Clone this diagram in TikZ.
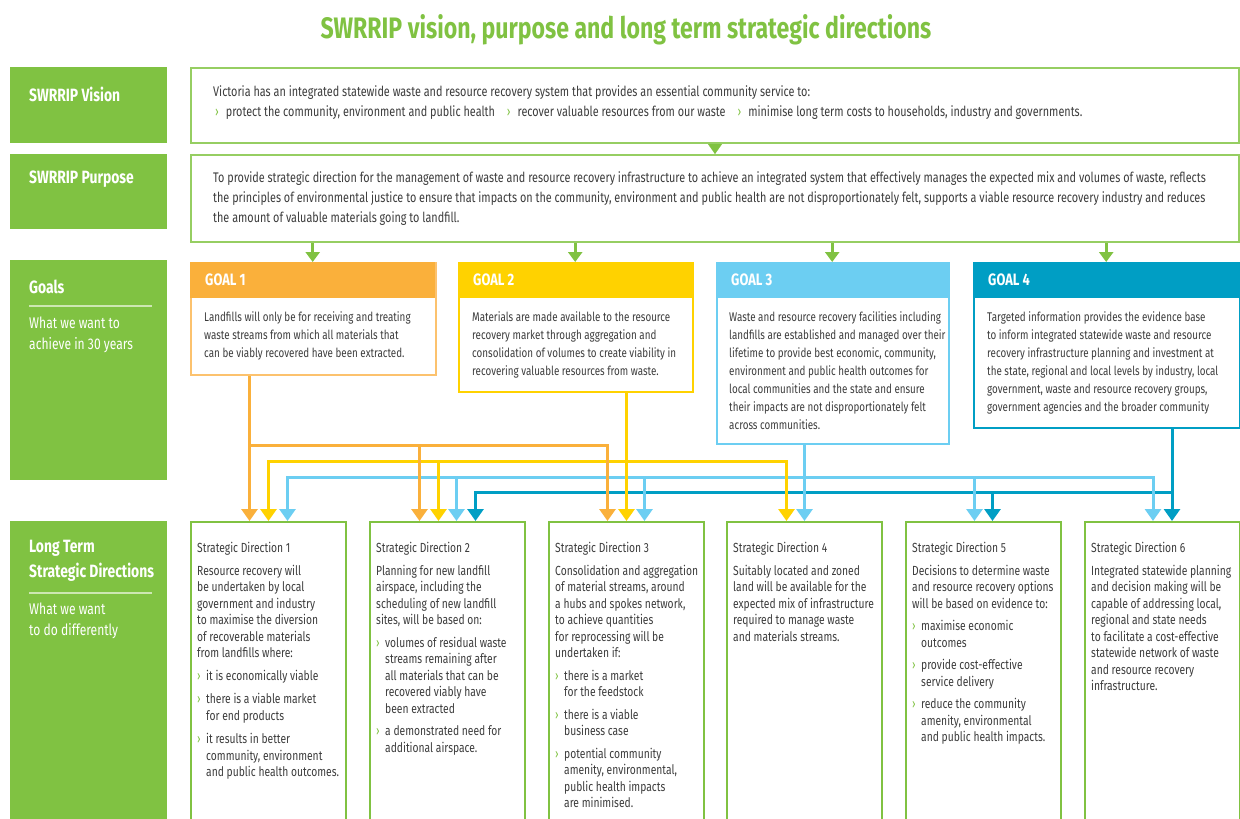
\documentclass[tikz,border=0pt]{standalone}
\usepackage{fontspec}
\setmainfont[FakeStretch=0.78]{Fira Sans}
\usetikzlibrary{calc}
\usetikzlibrary{arrows.meta}

\definecolor{swgreen}{RGB}{128,194,66}
\definecolor{swframe}{RGB}{150,206,98}
\definecolor{swrule}{RGB}{205,231,178}
\definecolor{gorange}{RGB}{250,176,59}
\definecolor{gorangel}{RGB}{252,194,110}
\definecolor{gyellow}{RGB}{255,210,0}
\definecolor{gblue}{RGB}{108,206,242}
\definecolor{gteal}{RGB}{0,158,196}
\definecolor{txtgrey}{RGB}{60,60,60}

\newcommand{\chev}{{\color{swgreen}›}}
\newcommand{\bul}{\makebox[9pt][l]{\chev}}
\newcommand{\ind}{\hspace*{9pt}}

\tikzset{
  greenlab/.style={fill=swgreen, anchor=north west, minimum width=157pt, minimum height=#1, inner sep=0pt},
  labhead/.style={anchor=west, text=white, align=left, inner sep=0pt, font=\fontsize{17.8}{25}\selectfont\bfseries},
  labsub/.style={anchor=west, text=white, align=left, inner sep=0pt, font=\fontsize{15.5}{21}\selectfont},
  topbox/.style={draw=swframe, line width=2pt, anchor=north west, minimum width=1048pt, inner sep=0pt},
  toptext/.style={anchor=west, text=txtgrey, align=left, inner sep=0pt, font=\fontsize{13.9}{20}\selectfont},
  goalbody/.style={draw=#1, line width=2pt, anchor=north west, inner sep=0pt},
  goalhead/.style={fill=#1, anchor=north west, minimum height=36pt, inner sep=0pt},
  goaltitle/.style={anchor=west, text=white, inner sep=0pt, font=\fontsize{16.5}{18}\selectfont\bfseries},
  goaltext/.style={anchor=west, text=txtgrey, align=left, inner sep=0pt, font=\fontsize{12.6}{18}\selectfont},
  sdbox/.style={draw=swgreen, line width=2pt, anchor=north west, minimum width=155pt, minimum height=320pt, inner sep=0pt},
  sdtext/.style={anchor=north west, text=txtgrey, align=left, inner sep=0pt, font=\fontsize{13.2}{16.5}\selectfont},
  feed/.style={line width=3pt, draw=swgreen, arrows={-Triangle[width=14pt,length=10pt]}},
  link/.style={line width=3pt, draw=#1, arrows={-Triangle[width=16pt,length=12pt]}},
  linkboth/.style={line width=3pt, draw=#1, arrows={Triangle[width=16pt,length=12pt]-Triangle[width=16pt,length=12pt]}}
}

\begin{document}
\begin{tikzpicture}[x=1pt, y=-1pt]
\useasboundingbox (0,0) rectangle (1240,819);

\node[font=\fontsize{29.6}{32}\selectfont\bfseries, text=swgreen] (title) at (626,30) {SWRRIP vision, purpose and long term strategic directions};

\node[greenlab=76pt] (vislab) at (10,67) {};
\node[labhead] (vislabt) at (29,94) {SWRRIP Vision};
\node[greenlab=75pt] (purlab) at (10,154) {};
\node[labhead] (purlabt) at (29,179) {SWRRIP Purpose};
\node[greenlab=220pt] (goallab) at (10,260) {};
\node[labhead] (goallabt) at (29,287) {Goals};
\draw[swrule, line width=1.5pt] (29,306) -- (152,306);
\node[labsub] (goallabs) at (29,334.5) {What we want to\\achieve in 30 years};
\node[greenlab=320pt] (sdlab) at (10,521) {};
\node[labhead] (sdlabt) at (29,560.5) {Long Term\\Strategic Directions};
\draw[swrule, line width=1.5pt] (29,593) -- (152,593);
\node[labsub] (sdlabs) at (29,620.5) {What we want\\to do differently};

\node[topbox, minimum height=75pt] (vis) at (190,67) {};
\node[toptext] (vist) at (213,103) {Victoria has an integrated statewide waste and resource recovery system that provides an essential community service to:\\
\hspace*{2pt}\chev\hspace{7pt}protect the community, environment and public health\hspace{12pt}\chev\hspace{7pt}recover valuable resources from our waste\hspace{12pt}\chev\hspace{7pt}minimise long term costs to households, industry and governments.};
\node[topbox, minimum height=87pt] (pur) at (190,154) {};
\node[toptext] (purt) at (213,199) {To provide strategic direction for the management of waste and resource recovery infrastructure to achieve an integrated system that effectively manages the expected mix and volumes of waste, reflects\\
the principles of environmental justice to ensure that impacts on the community, environment and public health are not disproportionately felt, supports a viable resource recovery industry and reduces\\
the amount of valuable materials going to landfill.};
\draw[feed, line width=.1pt] (vis.south) -- (pur.north);

\foreach \g/\x/\w/\h/\c/\cl/\n in {g1/190/245/112/gorange/gorangel/1, g2/458/234/129/gyellow/gyellow/2, g3/716/232/181/gblue/gblue/3, g4/973/266/165/gteal/gteal/4} {
  \node[goalbody=\cl, minimum width=\w pt, minimum height=\h pt] (\g) at (\x,262) {};
  \node[goalhead=\c, minimum width=\w pt] (\g head) at (\x,262) {};
  \node[goaltitle] (\g title) at (\x+15,280) {GOAL \n};
  \draw[feed] (pur.south -| \g head.north) -- (\g head.north);
}

\node[goaltext] (g1t) at (204,336) {Landfills will only be for receiving and treating\\waste streams from which all materials that\\can be viably recovered have been extracted.};
\node[goaltext] (g2t) at (472,344.5) {Materials are made available to the resource\\recovery market through aggregation and\\consolidation of volumes to create viability in\\recovering valuable resources from waste.};
\node[goaltext] (g3t) at (729,370.5) {Waste and resource recovery facilities including\\landfills are established and managed over their\\lifetime to provide best economic, community,\\environment and public health outcomes for\\local communities and the state and ensure\\their impacts are not disproportionately felt\\across communities.};
\node[goaltext] (g4t) at (987,362.5) {Targeted information provides the evidence base\\to inform integrated statewide waste and resource\\recovery infrastructure planning and investment at\\the state, regional and local levels by industry, local\\government, waste and resource recovery groups,\\government agencies and the broader community};

\foreach \n/\x in {1/190, 2/369, 3/548, 4/726, 5/905, 6/1084}
  \node[sdbox] (sd\n) at (\x,521) {};

\node[sdtext] (sd1t) at ($(sd1.north west)+(7,21)$) {Strategic Direction 1\\[6pt]
Resource recovery will\\be undertaken by local\\government and industry\\to maximise the diversion\\of recoverable materials\\from landfills where:\\[6pt]
\bul it is economically viable\\[7pt]
\bul there is a viable market\\\ind for end products\\[7pt]
\bul it results in better\\\ind community, environment\\\ind and public health outcomes.};
\node[sdtext] (sd2t) at ($(sd2.north west)+(7,21)$) {Strategic Direction 2\\[6pt]
Planning for new landfill\\airspace, including the\\scheduling of new landfill\\sites, will be based on:\\[6pt]
\bul volumes of residual waste\\\ind streams remaining after\\\ind all materials that can be\\\ind recovered viably have\\\ind been extracted\\[6pt]
\bul a demonstrated need for\\\ind additional airspace.};
\node[sdtext] (sd3t) at ($(sd3.north west)+(7,21)$) {Strategic Direction 3\\[6pt]
Consolidation and aggregation\\of material streams, around\\a hubs and spokes network,\\to achieve quantities\\for reprocessing will be\\undertaken if:\\[6pt]
\bul there is a market\\\ind for the feedstock\\[6pt]
\bul there is a viable\\\ind business case\\[6pt]
\bul potential community\\\ind amenity, environmental,\\\ind public health impacts\\\ind are minimised.};
\node[sdtext] (sd4t) at ($(sd4.north west)+(7,21)$) {Strategic Direction 4\\[6pt]
Suitably located and zoned\\land will be available for the\\expected mix of infrastructure\\required to manage waste\\and materials streams.};
\node[sdtext] (sd5t) at ($(sd5.north west)+(7,21)$) {Strategic Direction 5\\[6pt]
Decisions to determine waste\\and resource recovery options\\will be based on evidence to:\\[6pt]
\bul maximise economic\\\ind outcomes\\[6pt]
\bul provide cost-effective\\\ind service delivery\\[6pt]
\bul reduce the community\\\ind amenity, environmental\\\ind and public health impacts.};
\node[sdtext] (sd6t) at ($(sd6.north west)+(7,21)$) {Strategic Direction 6\\[6pt]
Integrated statewide planning\\and decision making will be\\capable of addressing local,\\regional and state needs\\to facilitate a cost-effective\\statewide network of waste\\and resource recovery\\infrastructure.};

\foreach \p/\s/\dx in {o1/sd1/-19, y1/sd1/0, b1/sd1/19, o2/sd2/-28, y2/sd2/-9, b2/sd2/9, t2/sd2/28, o3/sd3/-19, y3/sd3/0, b3/sd3/18, y4/sd4/-18, b4/sd4/0, b5/sd5/-9, t5/sd5/9, b6/sd6/-9.5, t6/sd6/9.5}
  \coordinate (\p) at ($(\s.north)+(\dx,0)$);
\coordinate (busO) at (0,445);
\coordinate (busY) at (0,461);
\coordinate (busB) at (0,477);
\coordinate (busT) at (0,492);

\draw[link=gteal] (g4.south -| t6) -- (t6);
\draw[link=gteal] (t6 |- busT) -| (t2);
\draw[link=gteal] (t5 |- busT) -- (t5);

\draw[link=gblue] (g3.south -| b4) -- (b4);
\draw[linkboth=gblue] (b1) |- (busB -| b6) -- (b6);
\foreach \p in {b2,b3,b5} \draw[link=gblue] (\p |- busB) -- (\p);

\draw[link=gyellow] (g2.south -| y3) -- (y3);
\draw[linkboth=gyellow] (y1) |- (busY -| y4) -- (y4);
\draw[link=gyellow] (y2 |- busY) -- (y2);

\draw[link=gorange] (g1.south -| o1) -- (o1);
\draw[link=gorange] (o1 |- busO) -| (o3);
\draw[link=gorange] (o2 |- busO) -- (o2);
\end{tikzpicture}
\end{document}
